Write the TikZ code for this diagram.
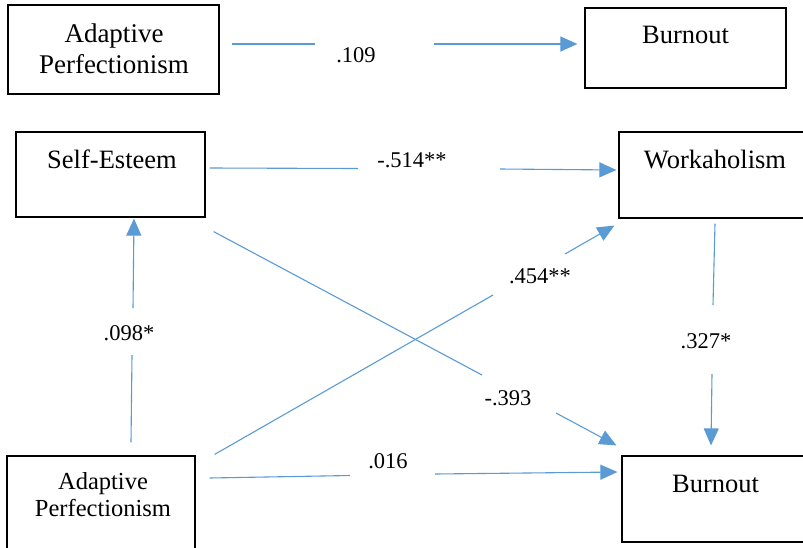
\documentclass[tikz,border=0pt]{standalone}
\usepackage{fontspec}
\setmainfont{Liberation Serif}
\usetikzlibrary{arrows.meta}
\definecolor{lineblue}{HTML}{5B9BD5}
\begin{document}
\begin{tikzpicture}[x=1pt,y=-1pt,
  box/.style={draw=black, line width=1.2pt, rectangle, inner sep=0pt},
  conn/.style={draw=lineblue, line width=1.1pt},
  tip/.style={conn, -{Triangle[length=17pt,width=15pt]}},
  lbl/.style={inner sep=0pt, font=\fontsize{22.5}{26}\selectfont},
  boxtext/.style={inner sep=0pt, font=\fontsize{26.5}{32}\selectfont}]
\useasboundingbox (0,0) rectangle (803,547);
\clip (0,0) rectangle (803,547);
\fill[white] (0,0) rectangle (803,547);
% boxes
\node[box, minimum width=211pt, minimum height=89pt] (ap1) at (113.5,49.5) {};
\node[box, minimum width=201pt, minimum height=80pt] (bo1) at (685.5,48) {};
\node[box, minimum width=189pt, minimum height=85pt] (se) at (110.5,174.5) {};
\node[box, minimum width=211pt, minimum height=86pt] (wk) at (724.5,175) {};
\node[box, minimum width=188pt, minimum height=124pt] (ap2) at (101,518) {};
\node[box, minimum width=208pt, minimum height=86pt] (bo2) at (726,499) {};
% box texts
\node[boxtext, align=center, font=\fontsize{27}{31}\selectfont] (ap1t) at (114,49) {Adaptive\\Perfectionism};
\node[boxtext, anchor=base] (bo1t) at (685.5,43) {Burnout};
\node[boxtext, anchor=base] (set) at (112,168) {Self-Esteem};
\node[boxtext, anchor=base] (wkt) at (715,168) {Workaholism};
\node[boxtext, align=center, font=\fontsize{24.5}{27}\selectfont] (ap2t) at (103,495) {Adaptive\\Perfectionism};
\node[boxtext, anchor=base] (bo2t) at (715.5,492) {Burnout};
% gap coordinates
\coordinate (g1a) at (315,44);   \coordinate (g1b) at (434,44);
\coordinate (g2a) at (358,168.5);\coordinate (g2b) at (500,169);
\coordinate (g3a) at (482,375);  \coordinate (g3b) at (556,413);
\coordinate (g4a) at (493,295);  \coordinate (g4b) at (565,254);
\coordinate (g5a) at (132,355);  \coordinate (g5b) at (133,308);
\coordinate (g6a) at (713,305);  \coordinate (g6b) at (712,374);
\coordinate (g7a) at (350,475.5);\coordinate (g7b) at (435,474);
% connectors
\draw[conn] ([shift={(12,-5.5)}]ap1.east) -- (g1a);
\draw[tip] (g1b) -- ([shift={(-7,-4)}]bo1.west);
\draw[conn] ([shift={(4,-6.5)}]se.east) -- (g2a);
\draw[tip] (g2b) -- ([shift={(-2,-5)}]wk.west);
\draw[conn] ([shift={(8,14)}]se.south east) -- (g3a);
\draw[tip] (g3b) -- ([shift={(-5,-10)}]bo2.north west);
\draw[conn] ([shift={(19,-1)}]ap2.north east) -- (g4a);
\draw[tip] (g4b) -- ([shift={(-4,7)}]wk.south west);
\draw[conn] ([shift={(30,-13)}]ap2.north) -- (g5a);
\draw[tip] (g5b) -- ([shift={(23.5,1)}]se.south);
\draw[conn] ([shift={(-9.5,5)}]wk.south) -- (g6a);
\draw[tip] (g6b) -- ([shift={(-15,-10)}]bo2.north);
\draw[conn] ([shift={(14,-40)}]ap2.east) -- (g7a);
\draw[tip] (g7b) -- ([shift={(-4,-27)}]bo2.west);
% labels
\node[lbl] (l1) at (356,55) {.109};
\node[lbl] (l2) at (412,160) {-.514**};
\node[lbl] (l3) at (540,276) {.454**};
\node[lbl] (l4) at (129,333) {.098*};
\node[lbl] (l5) at (706,341) {.327*};
\node[lbl] (l6) at (508,398) {-.393};
\node[lbl] (l7) at (388,461) {.016};
\end{tikzpicture}
\end{document}
